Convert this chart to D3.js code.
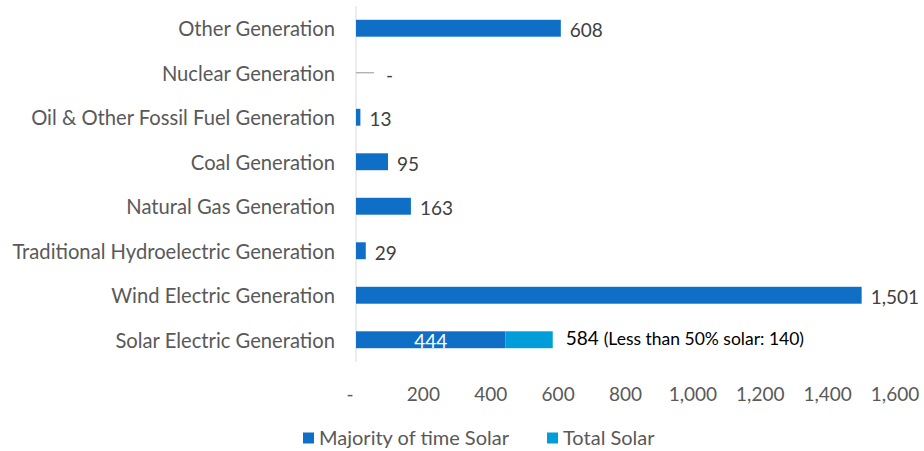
<!DOCTYPE html>
<html>
<head>
<meta charset="utf-8">
<script src="https://cdn.jsdelivr.net/npm/d3@7"></script>
<style>
  body { margin: 0; background: #fff; }
  svg { display: block; font-family: Lato, "Open Sans", sans-serif; }
</style>
</head>
<body>
<svg id="chart" width="924" height="451"></svg>
<script>
// ---- data ----
const categories = [
  'Other Generation',
  'Nuclear Generation',
  'Oil & Other Fossil Fuel Generation',
  'Coal Generation',
  'Natural Gas Generation',
  'Traditional Hydroelectric Generation',
  'Wind Electric Generation',
  'Solar Electric Generation'
];
const majoritySolar = [608, 0, 13, 95, 163, 29, 1501, 444];
const totalSolarExtra = [0, 0, 0, 0, 0, 0, 0, 140];
const xTicks = [0, 200, 400, 600, 800, 1000, 1200, 1400, 1600];
const seriesNames = ['Majority of time Solar', 'Total Solar'];
const solarNote = '(Less than 50% solar: 140)';

// ---- layout ----
const colors = ['#0f6fc6', '#009dd9'];
const svg = d3.select('#chart');
const x = d3.scaleLinear().domain([0, 1600]).range([356, 895]);
const y = d3.scaleBand().domain(categories).range([6, 362]).paddingInner(0.62).paddingOuter(0.31);

const fmt = v => v === 0 ? '-' : d3.format(',')(v);

// axis line
svg.append('line')
  .attr('x1', x(0)).attr('x2', x(0))
  .attr('y1', 6).attr('y2', 362)
  .attr('stroke', '#d9d9d9').attr('stroke-width', 1);

// category labels
svg.selectAll('.cat')
  .data(categories)
  .join('text')
  .attr('class', 'cat')
  .attr('x', x(0) - 21)
  .attr('y', d => y(d) + y.bandwidth() / 2 + 1)
  .attr('dy', '0.35em')
  .attr('text-anchor', 'end')
  .attr('font-size', 20.2)
  .attr('fill', '#595959')
  .text(d => d);

// x tick labels
svg.selectAll('.tick-label')
  .data(xTicks)
  .join('text')
  .attr('class', 'tick-label')
  .attr('x', d => d === 0 ? x(d) - 6 : x(d))
  .attr('y', 394)
  .attr('dy', '0.35em')
  .attr('text-anchor', 'middle')
  .attr('font-size', 19)
  .attr('fill', '#595959')
  .text(fmt);

// bars
const rows = categories.map((c, i) => ({ c, a: majoritySolar[i], b: totalSolarExtra[i] }));

svg.selectAll('.bar-a')
  .data(rows.filter(d => d.a > 0))
  .join('rect')
  .attr('class', 'bar-a')
  .attr('x', x(0))
  .attr('y', d => y(d.c))
  .attr('width', d => x(d.a) - x(0))
  .attr('height', y.bandwidth())
  .attr('fill', colors[0]);

svg.selectAll('.bar-b')
  .data(rows.filter(d => d.b > 0))
  .join('rect')
  .attr('class', 'bar-b')
  .attr('x', d => x(d.a))
  .attr('y', d => y(d.c))
  .attr('width', d => x(d.a + d.b) - x(d.a))
  .attr('height', y.bandwidth())
  .attr('fill', colors[1]);

// zero-value leader line
rows.filter(d => d.a + d.b === 0).forEach(d => {
  const cy = y(d.c) + y.bandwidth() / 2;
  svg.append('line')
    .attr('x1', x(0)).attr('x2', x(0) + 18)
    .attr('y1', cy).attr('y2', cy)
    .attr('stroke', '#a6a6a6').attr('stroke-width', 1.2);
});

// value labels (non-solar)
svg.selectAll('.val')
  .data(rows.filter(d => d.b === 0))
  .join('text')
  .attr('class', 'val')
  .attr('x', d => d.a === 0 ? x(0) + 30 : x(d.a) + 9)
  .attr('y', d => y(d.c) + y.bandwidth() / 2 + 2.5)
  .attr('dy', '0.35em')
  .attr('font-size', 19)
  .attr('fill', '#404040')
  .text(d => fmt(d.a));

// solar labels
rows.filter(d => d.b > 0).forEach(d => {
  const cy = y(d.c) + y.bandwidth() / 2;
  svg.append('text')
    .attr('x', (x(0) + x(d.a)) / 2)
    .attr('y', cy + 2)
    .attr('dy', '0.35em')
    .attr('text-anchor', 'middle')
    .attr('font-size', 19)
    .attr('fill', '#ffffff')
    .text(fmt(d.a));
  const t = svg.append('text')
    .attr('x', x(d.a + d.b) + 13)
    .attr('y', cy)
    .attr('dy', '0.35em')
    .attr('fill', '#000000');
  t.append('tspan').attr('font-size', 19).text(fmt(d.a + d.b) + ' ');
  t.append('tspan').attr('font-size', 17.5).text(solarNote);
});

// legend
const legendX = [303, 547];
const legend = svg.selectAll('.legend')
  .data(seriesNames)
  .join('g')
  .attr('class', 'legend')
  .attr('transform', (d, i) => `translate(${legendX[i]}, 438)`);
legend.append('rect')
  .attr('x', 0).attr('y', -5.5)
  .attr('width', 11).attr('height', 11)
  .attr('fill', (d, i) => colors[i]);
legend.append('text')
  .attr('x', 16)
  .attr('dy', '0.35em')
  .attr('font-size', 20)
  .attr('fill', '#595959')
  .text(d => d);
</script>
</body>
</html>
